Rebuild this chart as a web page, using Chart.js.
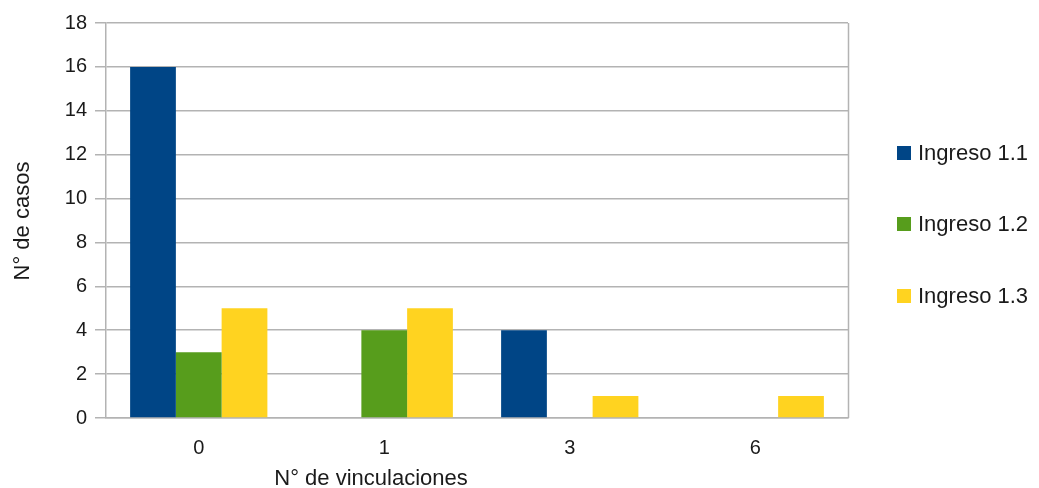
<!DOCTYPE html>
<html>
<head>
<meta charset="utf-8">
<script src="https://cdn.jsdelivr.net/npm/chart.js@4/dist/chart.umd.min.js"></script>
<style>
  html, body { margin: 0; padding: 0; background: #fff; }
  #wrap { width: 1039px; height: 488px; }
</style>
</head>
<body>
<div id="wrap"><canvas id="chart"></canvas></div>
<script>
// data
const categories = ['0', '1', '3', '6'];
const seriesNames = ['Ingreso 1.1', 'Ingreso 1.2', 'Ingreso 1.3'];
const ingreso11 = [16, 0, 4, 0];
const ingreso12 = [3, 4, 0, 0];
const ingreso13 = [5, 5, 1, 1];
const seriesColors = ['#004586', '#579d1c', '#ffd320'];
const yTitle = 'N° de casos';
const xTitle = 'N° de vinculaciones';

const FONT = '"Liberation Sans", Arial, sans-serif';
const GRID = '#b3b3b3';

// titles, right border and legend drawn by hand (LibreOffice style layout)
const decor = {
  id: 'decor',
  afterDraw(chart) {
    const ctx = chart.ctx;
    const area = chart.chartArea;
    ctx.save();
    // right frame line
    ctx.strokeStyle = GRID;
    ctx.lineWidth = 1.5;
    ctx.beginPath();
    ctx.moveTo(area.right + 0.5, area.top);
    ctx.lineTo(area.right + 0.5, area.bottom);
    ctx.stroke();

    ctx.fillStyle = '#1a1a1a';
    ctx.font = '22px ' + FONT;
    ctx.textAlign = 'center';
    ctx.textBaseline = 'middle';
    ctx.fillText(xTitle, 371, 479);
    ctx.translate(23, 221);
    ctx.rotate(-Math.PI / 2);
    ctx.fillText(yTitle, 0, 0);
    ctx.restore();

    // legend
    ctx.save();
    ctx.font = '22px ' + FONT;
    ctx.textAlign = 'left';
    ctx.textBaseline = 'middle';
    const ys = [153, 224, 296];
    chart.data.datasets.forEach((ds, i) => {
      ctx.fillStyle = ds.backgroundColor;
      ctx.fillRect(897, ys[i] - 7, 14, 14);
      ctx.fillStyle = '#1a1a1a';
      ctx.fillText(ds.label, 918, ys[i] + 1);
    });
    ctx.restore();
  }
};

const values = [ingreso11, ingreso12, ingreso13];

new Chart(document.getElementById('chart'), {
  type: 'bar',
  data: {
    labels: categories,
    datasets: seriesNames.map((name, i) => ({
      label: name,
      data: values[i],
      backgroundColor: seriesColors[i],
      borderWidth: 0,
      categoryPercentage: 0.74,
      barPercentage: 1.0
    }))
  },
  options: {
    responsive: true,
    maintainAspectRatio: false,
    animation: false,
    layout: { padding: { top: 23, right: 191, bottom: 0, left: 0 } },
    plugins: {
      legend: { display: false },
      tooltip: { enabled: false }
    },
    scales: {
      x: {
        grid: { display: false },
        border: { color: GRID, width: 1.5 },
        ticks: { color: '#1a1a1a', font: { family: FONT, size: 20 }, padding: 10 },
        afterFit(scale) { scale.height = 70; }
      },
      y: {
        min: 0,
        max: 18,
        ticks: { stepSize: 2, color: '#1a1a1a', font: { family: FONT, size: 20 }, padding: 8 },
        grid: { color: GRID, tickLength: 11, lineWidth: 1.5 },
        border: { color: GRID, width: 1.5 },
        afterFit(scale) { scale.width = 106; }
      }
    }
  },
  plugins: [decor]
});
</script>
</body>
</html>
